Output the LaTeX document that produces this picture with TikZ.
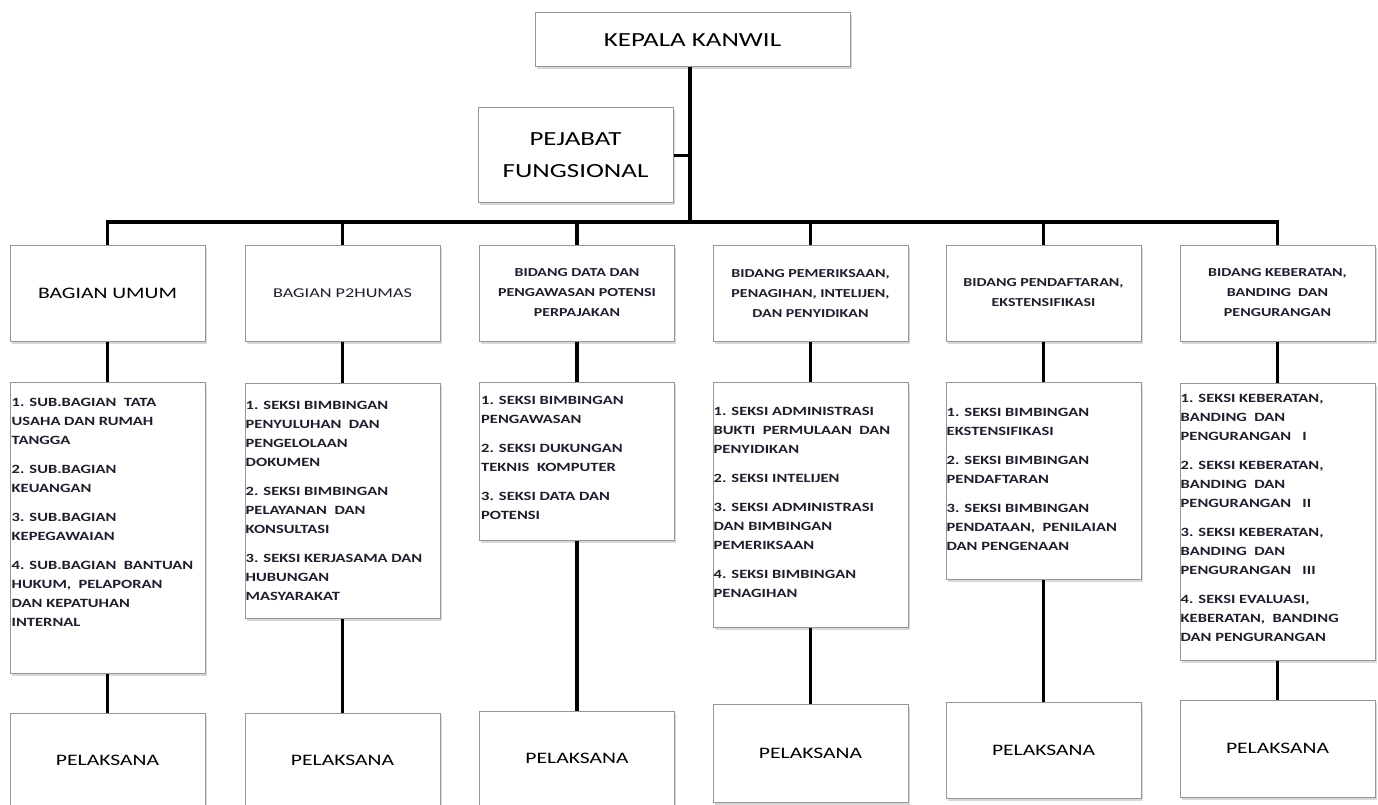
\documentclass[tikz,border=0pt]{standalone}
\usepackage{fontspec}
\setmainfont[FakeStretch=1.35]{Carlito}
\newfontfamily\seksifont[FakeStretch=1.31]{Carlito}
\usetikzlibrary{shadows}
\definecolor{inkgray}{RGB}{30,30,45}
\definecolor{boxgray}{RGB}{150,150,150}

\begin{document}
\begin{tikzpicture}[x=1pt, y=-1pt,
  main/.style = {draw=boxgray, line width=1pt, fill=white, inner sep=0pt, align=center,
    minimum width=195pt, drop shadow={shadow xshift=1.5pt, shadow yshift=-2.5pt, opacity=0.3}},
  big/.style = {font=\fontsize{20}{32}\selectfont},
  head/.style = {main, minimum height=96pt, text=inkgray, font=\seksifont\bfseries\fontsize{12.2}{20}\selectfont},
  exec/.style = {main, font=\fontsize{16}{20}\selectfont},
  list/.style = {anchor=north west, inner sep=0pt, align=left, text=inkgray,
    font=\seksifont\bfseries\fontsize{12.6}{19}\selectfont},
  link/.style = {line width=3.5pt}]
\useasboundingbox (0,0) rectangle (1378,805);

\node[main, big, minimum width=315pt, minimum height=54pt] (kanwil) at (692.5,40) {KEPALA KANWIL};
\node[main, big, minimum height=95pt] (fungsional) at (575.5,155.5) {PEJABAT\\FUNGSIONAL};
\coordinate (hub) at (690,222);

\node[head, text=black, font=\fontsize{16}{20}\selectfont] (umum) at (107.5,293) {BAGIAN UMUM};
\node[head, font=\fontsize{13.5}{20}\selectfont] (humas) at (342.5,293) {BAGIAN P2HUMAS};
\node[head] (data) at (577,293) {BIDANG DATA DAN\\PENGAWASAN POTENSI\\PERPAJAKAN};
\node[head] (periksa) at (810.5,293) {BIDANG PEMERIKSAAN,\\PENAGIHAN, INTELIJEN,\\DAN PENYIDIKAN};
\node[head] (daftar) at (1043.5,293) {BIDANG PENDAFTARAN,\\EKSTENSIFIKASI};
\node[head] (keberatan) at (1277.5,293) {BIDANG KEBERATAN,\\BANDING~ DAN\\PENGURANGAN};

\node[main, minimum height=291pt] (umum-s) at (107.5,527.5) {};
\node[main, minimum height=235pt] (humas-s) at (342.5,500.5) {};
\node[main, minimum height=158pt] (data-s) at (577,461) {};
\node[main, minimum height=245pt] (periksa-s) at (810.5,504.5) {};
\node[main, minimum height=197pt] (daftar-s) at (1043.5,480.5) {};
\node[main, minimum height=277pt] (keberatan-s) at (1277.5,521.5) {};

\node[list, xshift=2pt, yshift=-16.7pt] (umum-t) at (umum-s.north west)
  {1. SUB.BAGIAN~ TATA\\USAHA DAN RUMAH\\TANGGA\\[10pt]2. SUB.BAGIAN\\KEUANGAN\\[10pt]3. SUB.BAGIAN\\KEPEGAWAIAN\\[10pt]4. SUB.BAGIAN~ BANTUAN\\HUKUM,~ PELAPORAN\\DAN KEPATUHAN\\INTERNAL};
\node[list, xshift=1pt, yshift=-18.7pt] (humas-t) at (humas-s.north west)
  {1. SEKSI BIMBINGAN\\PENYULUHAN~ DAN\\PENGELOLAAN\\DOKUMEN\\[10pt]2. SEKSI BIMBINGAN\\PELAYANAN~ DAN\\KONSULTASI\\[10pt]3. SEKSI KERJASAMA DAN\\HUBUNGAN\\MASYARAKAT};
\node[list, xshift=2pt, yshift=-14.7pt] (data-t) at (data-s.north west)
  {1. SEKSI BIMBINGAN\\PENGAWASAN\\[10pt]2. SEKSI DUKUNGAN\\TEKNIS~ KOMPUTER\\[10pt]3. SEKSI DATA DAN\\POTENSI};
\node[list, xshift=1pt, yshift=-25.7pt] (periksa-t) at (periksa-s.north west)
  {1. SEKSI ADMINISTRASI\\BUKTI~ PERMULAAN~ DAN\\PENYIDIKAN\\[10pt]2. SEKSI INTELIJEN\\[10pt]3. SEKSI ADMINISTRASI\\DAN BIMBINGAN\\PEMERIKSAAN\\[10pt]4. SEKSI BIMBINGAN\\PENAGIHAN};
\node[list, xshift=1pt, yshift=-26.7pt] (daftar-t) at (daftar-s.north west)
  {1. SEKSI BIMBINGAN\\EKSTENSIFIKASI\\[10pt]2. SEKSI BIMBINGAN\\PENDAFTARAN\\[10pt]3. SEKSI BIMBINGAN\\PENDATAAN,~ PENILAIAN\\DAN PENGENAAN};
\node[list, xshift=1pt, yshift=-11.7pt] (keberatan-t) at (keberatan-s.north west)
  {1. SEKSI KEBERATAN,\\BANDING~ DAN\\PENGURANGAN~~ I\\[10pt]2. SEKSI KEBERATAN,\\BANDING~ DAN\\PENGURANGAN~~ II\\[10pt]3. SEKSI KEBERATAN,\\BANDING~ DAN\\PENGURANGAN~~ III\\[10pt]4. SEKSI EVALUASI,\\KEBERATAN,~ BANDING\\DAN PENGURANGAN};

\node[exec, minimum height=95pt] (umum-p) at (107.5,760.5) {PELAKSANA};
\node[exec, minimum height=95pt] (humas-p) at (342.5,760.5) {PELAKSANA};
\node[exec, minimum height=95pt] (data-p) at (577,758.5) {PELAKSANA};
\node[exec, minimum height=98pt] (periksa-p) at (810.5,753) {PELAKSANA};
\node[exec, minimum height=96pt] (daftar-p) at (1043.5,750) {PELAKSANA};
\node[exec, minimum height=97pt] (keberatan-p) at (1277.5,748.5) {PELAKSANA};

\draw[link] (kanwil.south -| hub) -- (hub);
\draw[line width=3pt] (fungsional.east) -- (fungsional.east -| hub);
\draw[link, line cap=rect] (umum.north |- hub) -- (keberatan.north |- hub);
\draw[link] (umum.north |- hub) -- (umum.north);
\draw[link] (humas.north |- hub) -- (humas.north);
\draw[link] (data.north |- hub) -- (data.north);
\draw[link] (periksa.north |- hub) -- (periksa.north);
\draw[link] (daftar.north |- hub) -- (daftar.north);
\draw[link] (keberatan.north |- hub) -- (keberatan.north);
\draw[link] (umum) -- (umum-s);
\draw[link] (humas) -- (humas-s);
\draw[link] (data) -- (data-s);
\draw[link] (periksa) -- (periksa-s);
\draw[link] (daftar) -- (daftar-s);
\draw[link] (keberatan) -- (keberatan-s);
\draw[link] (umum-s) -- (umum-p);
\draw[link] (humas-s) -- (humas-p);
\draw[link] (data-s) -- (data-p);
\draw[link] (periksa-s) -- (periksa-p);
\draw[link] (daftar-s) -- (daftar-p);
\draw[link] (keberatan-s) -- (keberatan-p);
\end{tikzpicture}
\end{document}
